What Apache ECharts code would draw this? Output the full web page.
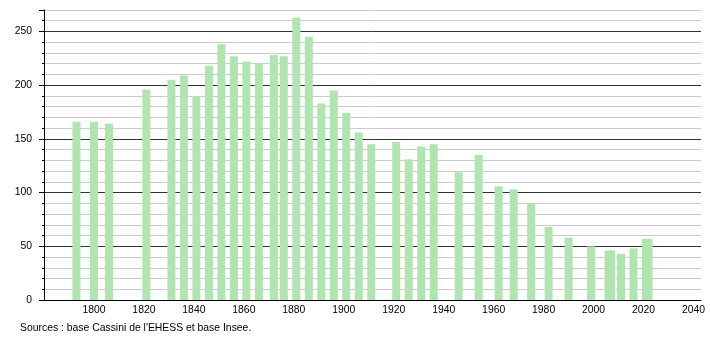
<!DOCTYPE html>
<html><head><meta charset="utf-8">
<script src="https://cdn.jsdelivr.net/npm/echarts@6/dist/echarts.min.js"></script>
<style>html,body{margin:0;padding:0;background:#fff}#c{width:710px;height:340px}</style>
</head><body><div id="c"></div>
<script>
var years = [1793,1800,1806,1821,1831,1836,1841,1846,1851,1856,1861,1866,1872,1876,1881,1886,1891,1896,1901,1906,1911,1921,1926,1931,1936,1946,1954,1962,1968,1975,1982,1990,1999,2006,2007,2011,2016,2021,2022];
var population = [166,166,164,196,205,209,190,218,238,227,222,220,228,227,263,245,183,195,174,156,145,147,131,143,145,119,135,106,103,90,68,58,50,46,46,43,48,57,57];
var xTickLabels = [1780,1800,1820,1840,1860,1880,1900,1920,1940,1960,1980,2000,2020,2040];
var yTickLabels = [0,50,100,150,200,250];
var sourceText = "Sources : base Cassini de l'EHESS et base Insee.";

var chart = echarts.init(document.getElementById('c'), null, {renderer:'canvas'});
var font = 'Liberation Sans, Arial, sans-serif';
var gridColors = [];
for (var v = 0; v <= 270; v += 10) gridColors.push(v % 50 === 0 ? '#333333' : '#cccccc');
chart.setOption({
  animation:false,
  grid:{left:44,right:9,top:10,bottom:40,containLabel:false},
  graphic:[{type:'text',left:20,top:323,style:{text:sourceText,font:'10.4px '+font,fill:'#000'}}],
  xAxis:{type:'value',min:1780,max:2043,interval:20,
    axisLine:{show:true,lineStyle:{color:'#000',width:1}},
    axisTick:{show:false},splitLine:{show:false},
    axisLabel:{margin:5,color:'#000',fontSize:10.4,fontFamily:font,
      formatter:function(v){return xTickLabels.indexOf(v)>0?String(v):'';}}},
  yAxis:[{type:'value',min:0,max:270,interval:10,
    axisLine:{show:true,lineStyle:{color:'#000',width:1}},
    axisTick:{show:true,length:2,lineStyle:{color:'#000'}},
    splitLine:{show:true,lineStyle:{color:gridColors,width:1}},
    axisLabel:{margin:12,color:'#000',fontSize:10.4,fontFamily:font,
      formatter:function(v){return yTickLabels.indexOf(v)>=0?String(v):'';}}},
   {type:'value',min:0,max:270,interval:50,position:'left',
    axisLine:{show:false},axisTick:{show:true,length:5,lineStyle:{color:'#000'}},
    splitLine:{show:false},axisLabel:{show:false}}],
  series:[{type:'bar',barWidth:8,itemStyle:{color:'#b0e4b0'},
    data:years.map(function(y,i){return [y,population[i]];})}]
});
</script></body></html>
